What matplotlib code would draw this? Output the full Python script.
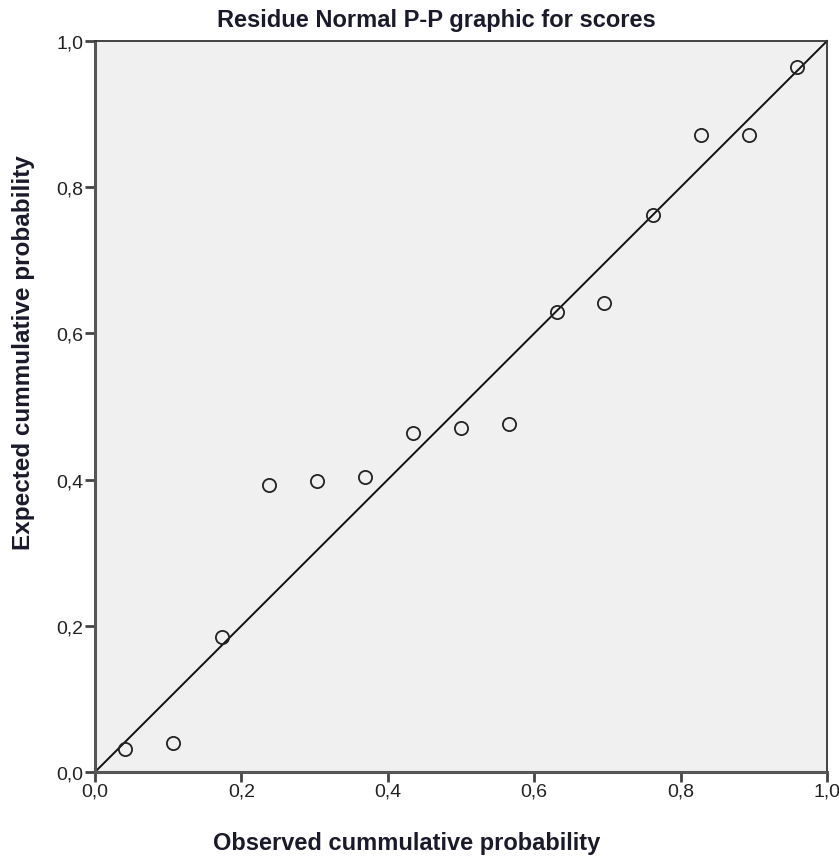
import matplotlib
matplotlib.use("Agg")
import matplotlib.pyplot as plt
from matplotlib.ticker import FuncFormatter

plt.rcParams['font.family'] = ['Liberation Sans', 'DejaVu Sans']

# observed vs expected cumulative probability
observed = [0.041, 0.107, 0.173, 0.238, 0.303, 0.369, 0.434, 0.500,
            0.566, 0.631, 0.696, 0.762, 0.828, 0.893, 0.959]
expected = [0.031, 0.040, 0.184, 0.392, 0.398, 0.404, 0.464, 0.470,
            0.476, 0.629, 0.642, 0.762, 0.872, 0.872, 0.964]
ref_line = [0.0, 1.0]
ticks = [0.0, 0.2, 0.4, 0.6, 0.8, 1.0]

W, H = 839, 862
fig = plt.figure(figsize=(W / 100, H / 100), dpi=100)
ax = fig.add_axes([95 / W, 89 / H, 732 / W, 731 / H])
ax.set_facecolor('#f0f0f0')

# diagonal reference line
ax.plot(ref_line, ref_line, color='#111111', lw=1.4, zorder=2, clip_on=False)

# points
ax.plot(observed, expected, linestyle='none', marker='o', markersize=9.5,
        markerfacecolor='none', markeredgecolor='#222222', markeredgewidth=1.3,
        zorder=3)

ax.set_xlim(0, 1)
ax.set_ylim(0, 1)
ax.set_xticks(ticks)
ax.set_yticks(ticks)
fmt = FuncFormatter(lambda v, p: f"{v:.1f}".replace('.', ','))
ax.xaxis.set_major_formatter(fmt)
ax.yaxis.set_major_formatter(fmt)
ax.tick_params(direction='out', length=7, width=2, color='#444444',
               labelsize=14, labelcolor='#222222')
ax.tick_params(axis='x', pad=0.5)
ax.tick_params(axis='y', pad=1.5)

for side in ['left', 'bottom']:
    ax.spines[side].set_linewidth(2.2)
    ax.spines[side].set_color('#555555')
for side in ['top', 'right']:
    ax.spines[side].set_linewidth(1.3)
    ax.spines[side].set_color('#333333')

# title and axis labels (placed like in the SPSS output, not centred on axes)
txt = dict(fontweight='bold', color='#1a1a2a')
fig.text(436 / W, 1 - 27 / H, 'Residue Normal P-P graphic for scores',
         fontsize=17, ha='center', va='baseline', **txt)
fig.text(407 / W, 12 / H, 'Observed cummulative probability',
         fontsize=17, ha='center', va='baseline', **txt)
fig.text(24 / W, 1 - 353 / H, 'Expected cummulative probability',
         fontsize=17.5, rotation=90, ha='center', va='center', **txt)

fig.savefig('out.png', dpi=100, facecolor='white')
